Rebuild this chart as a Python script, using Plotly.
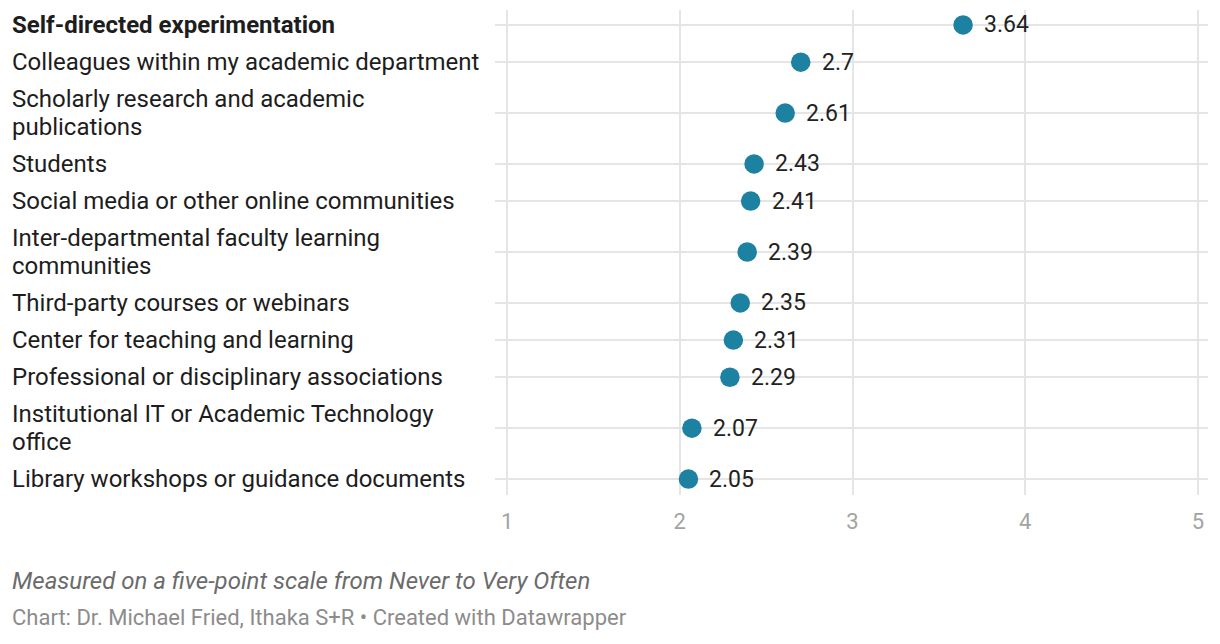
import plotly.graph_objects as go

# data
labels = [
    "Self-directed experimentation",
    "Colleagues within my academic department",
    "Scholarly research and academic<br>publications",
    "Students",
    "Social media or other online communities",
    "Inter-departmental faculty learning<br>communities",
    "Third-party courses or webinars",
    "Center for teaching and learning",
    "Professional or disciplinary associations",
    "Institutional IT or Academic Technology<br>office",
    "Library workshops or guidance documents",
]
values = [3.64, 2.7, 2.61, 2.43, 2.41, 2.39, 2.35, 2.31, 2.29, 2.07, 2.05]
value_text = ["3.64", "2.7", "2.61", "2.43", "2.41", "2.39", "2.35", "2.31", "2.29", "2.07", "2.05"]
x_ticks = [1, 2, 3, 4, 5]

# row heights depend on how many lines the label needs
h_one, h_two = 37.3, 64.8
line_gap = 28.5
heights = [h_two if "<br>" in lab else h_one for lab in labels]
centers = []
pos = 0.0
for i, h in enumerate(heights):
    if i > 0:
        pos += (heights[i - 1] + h) / 2
    centers.append(pos)

dot_color = "#1d81a2"
font = "Roboto"
label_x = -0.6802  # paper coords, left edge of the row labels

fig = go.Figure()
fig.add_trace(go.Scatter(
    x=values, y=centers, mode="markers",
    marker=dict(size=19.5, color=dot_color),
    hoverinfo="skip", showlegend=False,
))

for i, (lab, val, txt, yc) in enumerate(zip(labels, values, value_text, centers)):
    fig.add_annotation(
        x=val, y=yc, xref="x", yref="y", text=txt, showarrow=False,
        xanchor="left", xshift=19, font=dict(family=font, size=23, color="#222222"),
    )
    # draw each line separately so the line spacing stays tight
    lines = lab.split("<br>")
    for j, line in enumerate(lines):
        shift = (len(lines) - 1) / 2 * line_gap - j * line_gap
        fig.add_annotation(
            x=label_x, y=yc, xref="paper", yref="y", yshift=shift,
            text=f"<b>{line}</b>" if i == 0 else line,
            showarrow=False, xanchor="left", align="left",
            font=dict(family=font, size=24, color="#1d1d1d"),
        )

fig.add_annotation(
    x=label_x, y=-0.178, xref="paper", yref="paper", xanchor="left", yanchor="middle",
    text="<i>Measured on a five-point scale from Never to Very Often</i>",
    showarrow=False, font=dict(family=font, size=24, color="#6b6b6b"),
)
fig.add_annotation(
    x=label_x, y=-0.253, xref="paper", yref="paper", xanchor="left", yanchor="middle",
    text="Chart: Dr. Michael Fried, Ithaka S+R • Created with Datawrapper",
    showarrow=False, font=dict(family=font, size=22, color="#8c8c8c"),
)

fig.update_xaxes(
    range=[0.93, 5.058], tickvals=x_ticks, showgrid=True, gridcolor="#e5e5e5", gridwidth=2,
    zeroline=False, showline=False, ticks="outside", ticklen=7, tickcolor="rgba(0,0,0,0)",
    tickfont=dict(family=font, size=22, color="#a3a3a3"), fixedrange=True,
)
fig.update_yaxes(
    range=[centers[-1] + 16, -15], tickvals=centers, showticklabels=False,
    showgrid=True, gridcolor="#e5e5e5", gridwidth=2, zeroline=False, fixedrange=True,
)
fig.update_layout(
    width=1220, height=644, margin=dict(l=495, r=12, t=10, b=149),
    plot_bgcolor="white", paper_bgcolor="white", font=dict(family=font),
)

# the page body has a default margin; drop it so the figure sits at 0,0
fig.write_html("out.html", config={"displayModeBar": False},
               post_script="document.body.style.margin='0';")
